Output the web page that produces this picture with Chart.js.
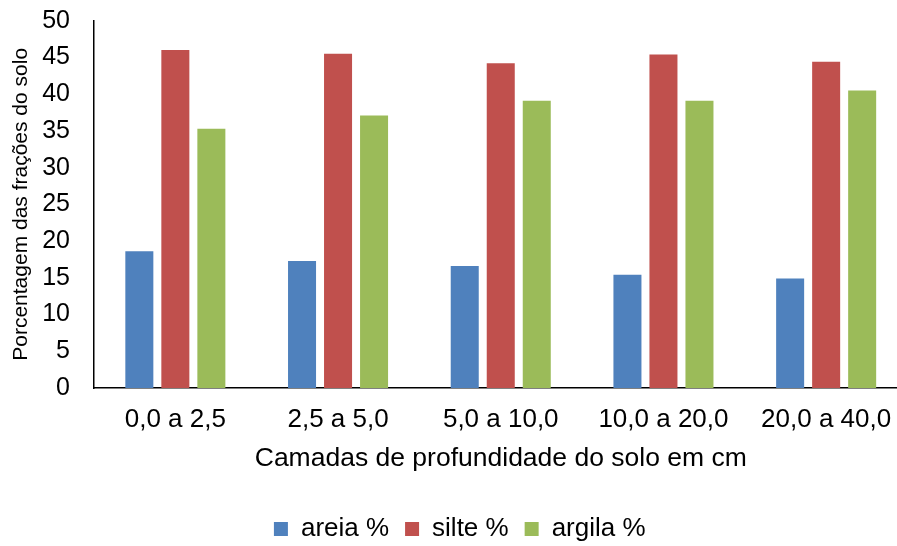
<!DOCTYPE html>
<html>
<head>
<meta charset="utf-8">
<script src="https://cdn.jsdelivr.net/npm/chart.js@4/dist/chart.umd.min.js"></script>
<style>
html,body{margin:0;padding:0;background:#fff;overflow:hidden;width:897px;height:546px;}
#wrap{width:920px;height:552px;position:relative;}
</style>
</head>
<body>
<div id="wrap"><canvas id="c" width="920" height="552"></canvas></div>
<script>
const categories = ['0,0 a 2,5', '2,5 a 5,0', '5,0 a 10,0', '10,0 a 20,0', '20,0 a 40,0'];
const areia = [18.6, 17.3, 16.6, 15.4, 14.9];
const silte = [46.0, 45.5, 44.2, 45.4, 44.4];
const argila = [35.3, 37.1, 39.1, 39.1, 40.5];
const seriesNames = ['areia %', 'silte %', 'argila %'];
const seriesColors = ['#4F81BD', '#C0504D', '#9BBB59'];
const yTitle = 'Porcentagem das frações do solo';
const xTitle = 'Camadas de profundidade do solo em cm';

const FONT = '"Liberation Sans", Arial, sans-serif';

new Chart(document.getElementById('c'), {
  type: 'bar',
  data: {
    labels: categories,
    datasets: [areia, silte, argila].map((d, i) => ({
      label: seriesNames[i],
      data: d,
      backgroundColor: seriesColors[i],
      borderWidth: 0,
      barPercentage: 0.778,
      categoryPercentage: 0.664
    }))
  },
  options: {
    responsive: false,
    animation: false,
    devicePixelRatio: 1,
    layout: { padding: { left: 12, right: 12.5, top: 20.7, bottom: 0 } },
    plugins: {
      tooltip: { enabled: false },
      legend: {
        position: 'bottom',
        labels: {
          boxWidth: 14,
          boxHeight: 14,
          padding: 16,
          color: '#000',
          font: { family: FONT, size: 26 }
        }
      }
    },
    scales: {
      x: {
        grid: { display: false, drawTicks: false },
        border: { display: true, color: '#000', width: 1.5 },
        ticks: { color: '#000', padding: 16, font: { family: FONT, size: 26 }, maxRotation: 0 },
        title: { display: true, text: xTitle, color: '#000', font: { family: FONT, size: 26.5 }, padding: { top: 8, bottom: 25 } },
        afterFit: (s) => { s.height = 112; }
      },
      y: {
        min: 0,
        max: 50,
        grid: { display: false, drawTicks: false },
        border: { display: true, color: '#000', width: 1.5 },
        ticks: { stepSize: 5, color: '#000', padding: 24, font: { family: FONT, size: 25 } },
        title: { display: true, text: yTitle, color: '#000', font: { family: FONT, size: 21 }, padding: { top: -3, bottom: 0 } },
        afterFit: (s) => { s.width = 82; s.paddingTop = 0; s.paddingBottom = 0; }
      }
    }
  }
});
</script>
</body>
</html>
